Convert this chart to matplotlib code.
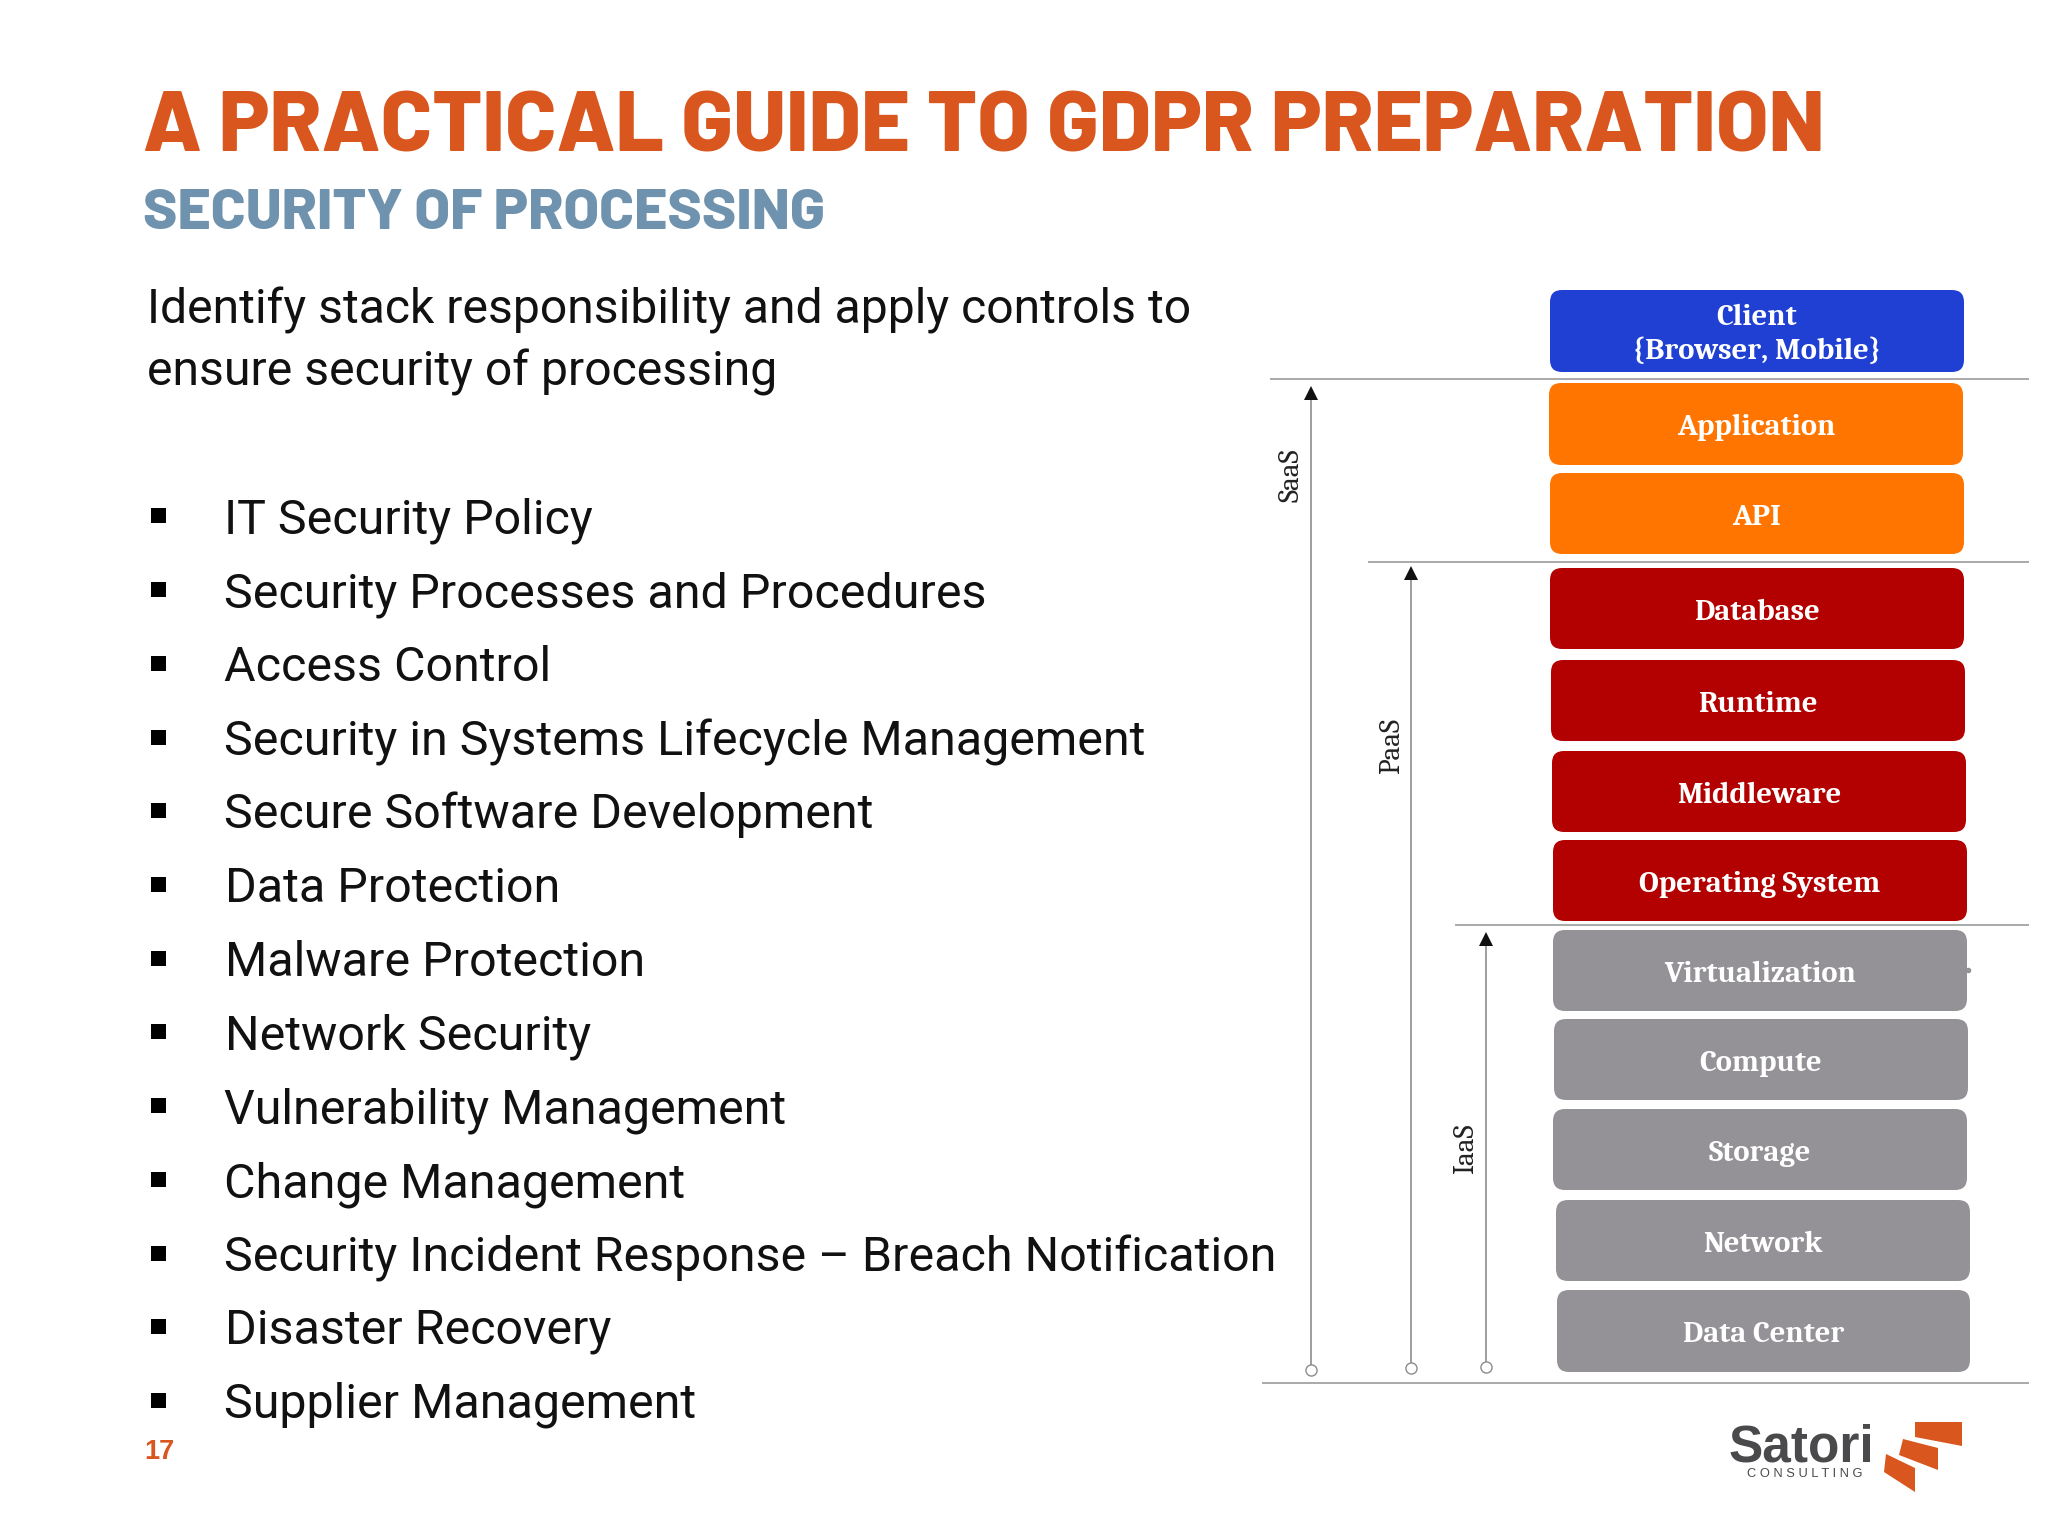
import matplotlib
matplotlib.use("Agg")
import matplotlib.pyplot as plt
from matplotlib.patches import FancyBboxPatch, Polygon, Rectangle

TITLE_FONT = ["Barlow", "Liberation Sans"]
BODY_FONT = ["Roboto"]
BOX_FONT = ["Caladea", "Liberation Serif"]

title = "A PRACTICAL GUIDE TO GDPR PREPARATION"
subtitle = "SECURITY OF PROCESSING"
intro = ["Identify stack responsibility and apply controls to",
         "ensure security of processing"]
bullets = ["IT Security Policy", "Security Processes and Procedures", "Access Control",
           "Security in Systems Lifecycle Management", "Secure Software Development",
           "Data Protection", "Malware Protection", "Network Security",
           "Vulnerability Management", "Change Management",
           "Security Incident Response \u2013 Breach Notification",
           "Disaster Recovery", "Supplier Management"]
bullet_y = [516, 590, 664, 738, 811, 885, 959, 1032, 1106, 1180, 1254, 1327, 1401]
bullet_text_x = [224, 224, 224, 224, 224, 225, 225, 225, 224, 224, 224, 225, 224]

layers = ["Client\n{Browser, Mobile}", "Application", "API", "Database", "Runtime", "Middleware",
          "Operating System", "Virtualization", "Compute", "Storage", "Network", "Data Center"]
layer_left = [1550, 1549, 1550, 1550, 1551, 1552, 1553, 1553, 1554, 1553, 1556, 1557]
layer_right = [1964, 1963, 1964, 1964, 1965, 1966, 1967, 1967, 1968, 1967, 1970, 1970]
layer_top = [290, 383, 473, 568, 660, 751, 840, 930, 1019, 1109, 1200, 1290]
layer_bottom = [372, 465, 554, 649, 741, 832, 921, 1011, 1100, 1190, 1281, 1372]
BLUE, ORANGE, RED, GREY = "#1f40d2", "#ff7500", "#b30000", "#949296"
layer_colors = [BLUE, ORANGE, ORANGE, RED, RED, RED, RED, GREY, GREY, GREY, GREY, GREY]

# horizontal separators: y, left end
sep_y = [379, 562, 925, 1383]
sep_left = [1271, 1369, 1456, 1263]
SEP_RIGHT = 2028

# SaaS / PaaS / IaaS arrows
stack_names = ["SaaS", "PaaS", "IaaS"]
arrow_x = [1311, 1411, 1486]
arrow_bottom = [1370, 1368, 1367]
arrow_top = [388, 568, 934]
name_x = [1291, 1392, 1466]
name_y = [475, 746, 1149]

fig = plt.figure(figsize=(20.48, 15.36), dpi=100, facecolor="white")
ax = fig.add_axes([0, 0, 1, 1])
ax.set_xlim(0, 2048)
ax.set_ylim(1536, 0)
ax.axis("off")

ax.text(143, 151, title, family=TITLE_FONT, weight=800, size=61.1,
        color="#d9561e", va="baseline")
ax.text(143, 229, subtitle, family=TITLE_FONT, weight=800, size=41.4,
        color="#6f93ae", va="baseline")

for i, line in enumerate(intro):
    ax.text(147, 305 + 62 * i, line, family=BODY_FONT, size=34.7, color="#111111", va="center_baseline")

for y, x, s in zip(bullet_y, bullet_text_x, bullets):
    ax.add_patch(Rectangle((151, y - 8), 15, 15, color="black", lw=0))
    ax.text(x, y - 1, s, family=BODY_FONT, size=34.8, color="#111111", va="center_baseline")

ax.text(144, 1459, "17", family="Liberation Sans", weight="bold", size=19.5, color="#d9561e", va="baseline")

for s, l, r, t, b, c in zip(layers, layer_left, layer_right, layer_top, layer_bottom, layer_colors):
    ax.add_patch(FancyBboxPatch((l + 12, t + 12), r - l - 24, b - t - 24,
                                boxstyle="round,pad=12,rounding_size=12", fc=c, ec="none"))
    ax.text((l + r) / 2, (t + b) / 2 + 3.5, s, family=BOX_FONT, weight="bold", size=22,
            color="white", ha="center", va="center", linespacing=1.27)

# stray dot at the edge of the virtualization box
ax.plot([1968], [970], "o", ms=3, color=GREY)

for y, l in zip(sep_y, sep_left):
    ax.plot([l, SEP_RIGHT], [y, y], color="#a9a9ab", lw=1.4)

for s, x, b, t, nx, ny in zip(stack_names, arrow_x, arrow_bottom, arrow_top, name_x, name_y):
    ax.plot([x, x], [b, t + 8], color="#8c8c8e", lw=1.2)
    ax.plot([x], [t + 5], marker="^", ms=10, color="#111111", mew=0)
    ax.plot([x], [b], "o", ms=8, mfc="white", mec="#8c8c8e", mew=1)
    ax.text(nx, ny, s, family=BOX_FONT, size=21, color="#222222",
            rotation=90, ha="center", va="center")

# logo
LOGO = "#d9561e"
ax.add_patch(Polygon([(1915, 1422), (1962, 1422), (1962, 1446), (1915, 1437)], fc=LOGO, ec="none"))
ax.add_patch(Polygon([(1903, 1439), (1938, 1448), (1938, 1470), (1899, 1455)], fc=LOGO, ec="none"))
ax.add_patch(Polygon([(1886, 1454), (1915, 1468), (1915, 1492), (1884, 1472)], fc=LOGO, ec="none"))
ax.text(1729, 1462, "Satori", family="Liberation Sans", weight="bold", size=37, color="#4a4a4d", va="baseline")
ax.text(1747, 1477, "C O N S U L T I N G", family="Liberation Sans", size=9.3, color="#4a4a4d", va="baseline")

fig.savefig("out.png", dpi=100)
